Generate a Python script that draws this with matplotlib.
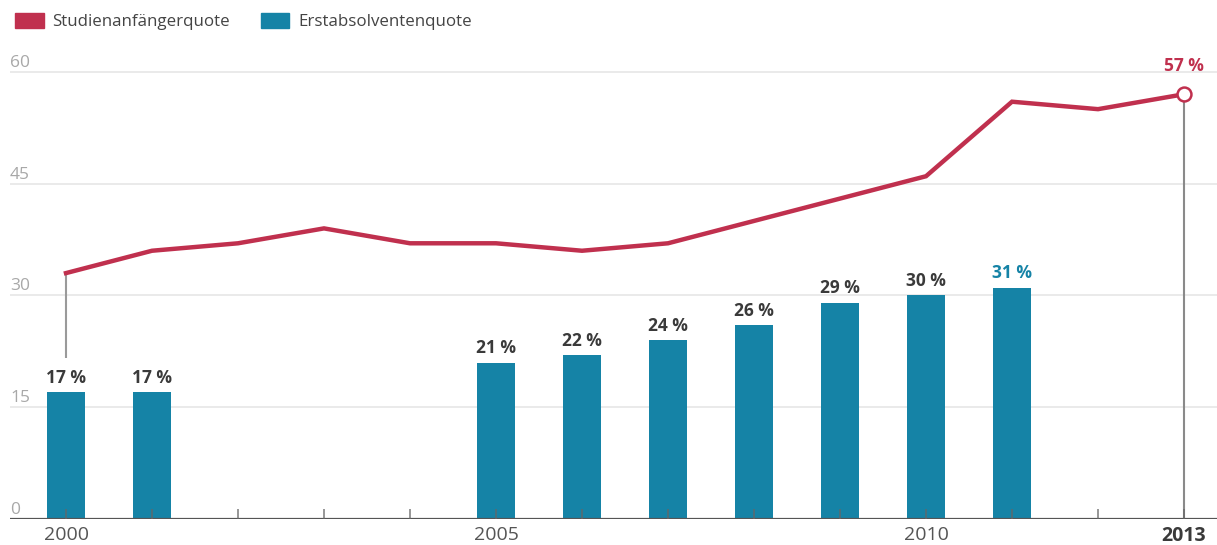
import matplotlib.pyplot as plt
from matplotlib.patches import Patch
from matplotlib.transforms import blended_transform_factory, offset_copy

# Studienanfänger- und Erstabsolventenquote in Prozent
years = [2000, 2001, 2002, 2003, 2004, 2005, 2006, 2007, 2008, 2009, 2010, 2011, 2012, 2013]
anfaenger = [33, 36, 37, 39, 37, 37, 36, 37, 40, 43, 46, 56, 55, 57]
bar_years = [2000, 2001, 2005, 2006, 2007, 2008, 2009, 2010, 2011]
absolventen = [17, 17, 21, 22, 24, 26, 29, 30, 31]
y_ticks = [15, 30, 45, 60]
x_labels = [2000, 2005, 2010, 2013]

red = '#c0304e'
blue = '#1583a6'
dark = '#3a3a3a'
grey = '#9a9a9a'

plt.rcParams['font.family'] = ['Open Sans', 'DejaVu Sans']

fig = plt.figure(figsize=(12.17, 5.45), dpi=100)
W, H = 1217, 545
ax = fig.add_axes([10 / W, 26 / H, 1207 / W, 462 / H])
ax.set_xlim(2000 - 56 / 86, 2013 + 33 / 86)
ax.set_ylim(0, 62)
for s in ax.spines.values():
    s.set_visible(False)
ax.set_xticks([])
ax.set_yticks([])

# gridlines and y labels sitting on top of them
trans_y = blended_transform_factory(ax.transAxes, ax.transData)
for v in y_ticks:
    ax.axhline(v, color='#e8e8e8', lw=1.3, zorder=0)
for v in [0] + y_ticks:
    ax.text(0, v, str(v), transform=offset_copy(trans_y, fig=fig, y=1, units='dots'),
            ha='left', va='bottom', fontsize=12.5, color='#a8a8a8')

# bars
ax.bar(bar_years, absolventen, width=0.44, color=blue, zorder=2)
for x, v in zip(bar_years, absolventen):
    col = blue if x == bar_years[-1] else dark
    ax.annotate(f'{v} %', (x, v), xytext=(0, 4), textcoords='offset points',
                ha='center', va='bottom', fontsize=12.5, fontweight='bold', color=col)

# guide lines
ax.vlines(years[0], 21.6, anfaenger[0], color=grey, lw=1.5, zorder=3)
ax.vlines(years[-1], 0, anfaenger[-1], color='#8a8a8a', lw=1.5, zorder=3)

# line
ax.plot(years, anfaenger, color=red, lw=3.2, solid_joinstyle='miter', zorder=4)
ax.plot(years[-1], anfaenger[-1], 'o', ms=10, mfc='white', mec=red, mew=1.8, zorder=5)
ax.annotate(f'{anfaenger[-1]} %', (years[-1], anfaenger[-1]), xytext=(0, 14),
            textcoords='offset points', ha='center', va='bottom', fontsize=12.5,
            fontweight='bold', color=red, annotation_clip=False)

# x axis with small upward ticks
ax.axhline(0, color='#555555', lw=1.6, zorder=6)
for x in years:
    ax.vlines(x, 0, 1.4, color='#666666', lw=1.2, zorder=6, alpha=0.8)
for x in x_labels:
    bold = x == x_labels[-1]
    ax.annotate(str(x), (x, 0), xytext=(0, -5), textcoords='offset points',
                ha='center', va='top', fontsize=14,
                fontweight='bold' if bold else 'normal',
                color=dark if bold else '#555555', annotation_clip=False)

handles = [Patch(color=red, label='Studienanfängerquote'),
           Patch(color=blue, label='Erstabsolventenquote')]
fig.legend(handles=handles, loc='upper left', bbox_to_anchor=(0.0, 1.004), ncol=2,
           frameon=False, fontsize=12.2, handlelength=1.7, handleheight=1.0,
           handletextpad=0.5, columnspacing=1.8, labelcolor='#444444')

fig.savefig('out.png', dpi=100)
